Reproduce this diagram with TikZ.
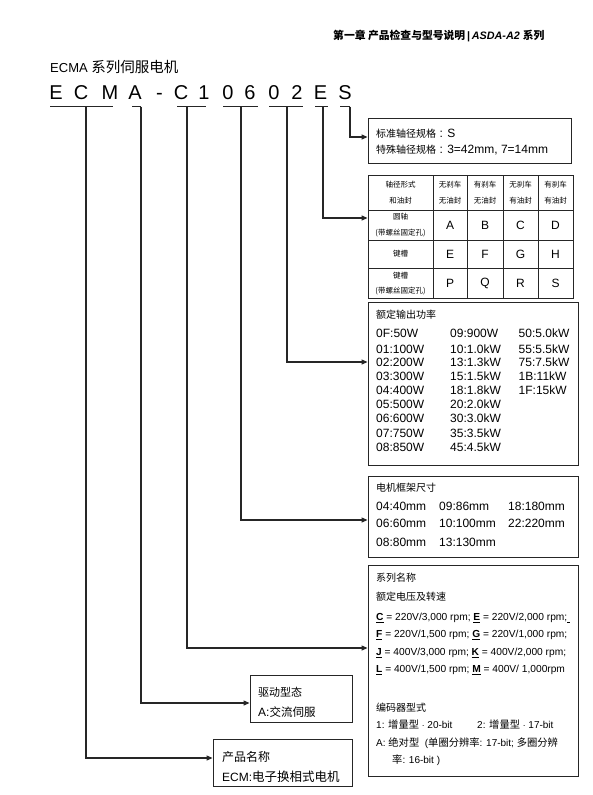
\documentclass[tikz,border=0pt]{standalone}
\usepackage{fontspec}
\setmainfont{Liberation Sans}
\newfontfamily\cjk{Noto Sans CJK SC}[AutoFakeSlant=0.2]
\usetikzlibrary{arrows.meta}
\newcommand\zhs[2]{{\fontsize{#1}{#1}\selectfont\cjk #2}}
\newcommand\fs[1]{\fontsize{#1}{#1}\selectfont}
\newcommand\ul[1]{\underline{\textbf{#1}}}
\begin{document}
\begin{tikzpicture}[x=1pt,y=-1pt,
  txt/.style={anchor=base west,inner sep=0pt},
  cell/.style={anchor=center,inner sep=0pt,align=center},
  box/.style={draw=black!85,line width=0.9pt,inner sep=0pt},
  grid/.style={draw=black!85,line width=0.8pt},
  conn/.style={line width=1.2pt,draw=black!85},
  arr/.style={conn,-{Triangle[length=6pt,width=5pt]}},
  big/.style={anchor=base,inner sep=0pt,font=\fs{20}}]
\useasboundingbox (0,0) rectangle (592,795);

% header
\node[txt] (hdr) at (333,39.5) {\fs{10.8}{\cjk\bfseries\itshape 第一章\ 产品检查与型号说明}\,\textbf{|}\,\textbf{\textit{ASDA-A2}} {\cjk\bfseries\itshape 系列}};
% title
\node[txt] (title) at (50,72.7) {\fs{13}ECMA \zhs{14.5}{系列伺服电机}};

% model letters
\node[big] (L1) at (56,99) {E};
\node[big] (L2) at (81,99) {C};
\node[big] (L3) at (110,99) {M};
\node[big] (L4) at (135,99) {A};
\node[big] (L5) at (159.5,99) {-};
\node[big] (L6) at (181,99) {C};
\node[big] (L7) at (204,99) {1};
\node[big] (L8) at (228,99) {0};
\node[big] (L9) at (250,99) {6};
\node[big] (L10) at (274,99) {0};
\node[big] (L11) at (297,99) {2};
\node[big] (L12) at (320.5,99) {E};
\node[big] (L13) at (345,99) {S};

% boxes
\node[box,minimum width=203pt,minimum height=45pt] (shaft) at (469.5,140.5) {};
\node[box,minimum width=205pt,minimum height=123pt] (tbl) at (470.5,236.5) {};
\node[box,minimum width=210pt,minimum height=163pt] (power) at (473,383.5) {};
\node[box,minimum width=210pt,minimum height=81pt] (frame) at (473,516.5) {};
\node[box,minimum width=210pt,minimum height=211pt] (series) at (473,670.5) {};
\node[box,minimum width=102pt,minimum height=47pt] (drive) at (301,698.5) {};
\node[box,minimum width=139pt,minimum height=47pt] (prod) at (282.5,762.5) {};

% underline coordinates
\coordinate (uNa) at (50,106.5);  \coordinate (uNb) at (113,106.5); \coordinate (vN) at (86,106.5);
\coordinate (uAa) at (132,106.5); \coordinate (vA) at (141,106.5);
\coordinate (uCa) at (177,106.5); \coordinate (uCb) at (206,106.5); \coordinate (vC) at (187,106.5);
\coordinate (uFa) at (223,106.5); \coordinate (uFb) at (258,106.5); \coordinate (vF) at (241,106.5);
\coordinate (uPa) at (269,106.5); \coordinate (uPb) at (303,106.5); \coordinate (vP) at (287,106.5);
\coordinate (uEa) at (315,106.5); \coordinate (uEb) at (328,106.5); \coordinate (vE) at (323,106.5);
\coordinate (uSa) at (340,106.5); \coordinate (vS) at (350,106.5);
% arrow targets
\coordinate (tS) at (shaft.west |- 0,137);
\coordinate (tE) at (tbl.west |- 0,218);
\coordinate (tP) at (power.west |- 0,362);
\coordinate (tF) at (frame.west |- 0,520);
\coordinate (tC) at (series.west |- 0,648);
\coordinate (tA) at (drive.west |- 0,703);
\coordinate (tN) at (prod.west |- 0,758);

\draw[conn] (uNa) -- (uNb);
\draw[conn] (uAa) -- (vA);
\draw[conn] (uCa) -- (uCb);
\draw[conn] (uFa) -- (uFb);
\draw[conn] (uPa) -- (uPb);
\draw[conn] (uEa) -- (uEb);
\draw[conn] (uSa) -- (vS);
\draw[arr] (vS) |- (tS);
\draw[arr] (vE) |- (tE);
\draw[arr] (vP) |- (tP);
\draw[arr] (vF) |- (tF);
\draw[arr] (vC) |- (tC);
\draw[arr] (vA) |- (tA);
\draw[arr] (vN) |- (tN);

% shaft box text
\node[txt] (s1) at (376,137.3) {\zhs{10}{标准轴径规格}\fs{12} : S};
\node[txt] (s2) at (376,153.3) {\zhs{10}{特殊轴径规格}\fs{12} : 3=42mm, 7=14mm};

% table grid
\draw[grid] (433,175) -- (433,298);
\draw[grid] (467,175) -- (467,298);
\draw[grid] (503,175) -- (503,298);
\draw[grid] (538,175) -- (538,298);
\draw[grid] (368,210) -- (573,210);
\draw[grid] (368,240) -- (573,240);
\draw[grid] (368,268) -- (573,268);
\node[cell] (h0) at (400.5,192.5) {\zhs{7.5}{轴径形式}\\[4pt]\zhs{7.5}{和油封}};
\node[cell] (h1) at (450,192.5) {\zhs{7.5}{无刹车}\\[4pt]\zhs{7.5}{无油封}};
\node[cell] (h2) at (485,192.5) {\zhs{7.5}{有刹车}\\[4pt]\zhs{7.5}{无油封}};
\node[cell] (h3) at (520.5,192.5) {\zhs{7.5}{无刹车}\\[4pt]\zhs{7.5}{有油封}};
\node[cell] (h4) at (555.5,192.5) {\zhs{7.5}{有刹车}\\[4pt]\zhs{7.5}{有油封}};
\node[cell] (r1) at (400.5,225.5) {\zhs{7.5}{圆轴}\\[4pt]\zhs{7.5}{(带螺丝固定孔)}};
\node[cell] (r2) at (400.5,254) {\zhs{7.5}{键槽}};
\node[cell] (r3) at (400.5,283.5) {\zhs{7.5}{键槽}\\[3pt]\zhs{7.5}{(带螺丝固定孔)}};
\foreach \t [count=\i] in {A,B,C,D} \node[cell,font=\fs{12}] (ta\i) at ({\i==1?450:(\i==2?485:(\i==3?520.5:555.5))},225) {\t};
\foreach \t [count=\i] in {E,F,G,H} \node[cell,font=\fs{12}] (tb\i) at ({\i==1?450:(\i==2?485:(\i==3?520.5:555.5))},254) {\t};
\foreach \t [count=\i] in {P,Q,R,S} \node[cell,font=\fs{12}] (tc\i) at ({\i==1?450:(\i==2?485:(\i==3?520.5:555.5))},283) {\t};

% power box
\node[txt] (pt) at (376,318) {\zhs{10}{额定输出功率}};
\foreach \t/\y [count=\i] in {0F:50W/337.5,01:100W/353,02:200W/366.5,03:300W/380.5,04:400W/394.5,05:500W/408.5,06:600W/422.5,07:750W/437,08:850W/451}
  \node[txt,font=\fs{12}] (pa\i) at (376,\y) {\t};
\foreach \t/\y [count=\i] in {09:900W/337.5,10:1.0kW/353,13:1.3kW/366.5,15:1.5kW/380.5,18:1.8kW/394.5,20:2.0kW/408.5,30:3.0kW/422.5,35:3.5kW/437,45:4.5kW/451}
  \node[txt,font=\fs{12}] (pb\i) at (450,\y) {\t};
\foreach \t/\y [count=\i] in {50:5.0kW/337.5,55:5.5kW/353,75:7.5kW/366.5,1B:11kW/380.5,1F:15kW/394.5}
  \node[txt,font=\fs{12}] (pc\i) at (518.5,\y) {\t};

% frame box
\node[txt] (ft) at (376,491) {\zhs{10}{电机框架尺寸}};
\node[txt,font=\fs{12}] (f1) at (376,510.3) {04:40mm};
\node[txt,font=\fs{12}] (f2) at (439,510.3) {09:86mm};
\node[txt,font=\fs{12}] (f3) at (508,510.3) {18:180mm};
\node[txt,font=\fs{12}] (f4) at (376,527.5) {06:60mm};
\node[txt,font=\fs{12}] (f5) at (439,527.5) {10:100mm};
\node[txt,font=\fs{12}] (f6) at (508,527.5) {22:220mm};
\node[txt,font=\fs{12}] (f7) at (376,546) {08:80mm};
\node[txt,font=\fs{12}] (f8) at (439,546) {13:130mm};

% series box
\node[txt] (e1) at (376,581.8) {\zhs{10}{系列名称}};
\node[txt] (e2) at (376,600.8) {\zhs{10}{额定电压及转速}};
\node[txt,font=\fs{10.2}] (e3) at (376,620.6) {\ul{C} = 220V/3,000 rpm; \ul{E} = 220V/2,000 rpm;\underline{\hspace{3pt}}};
\node[txt,font=\fs{10.2}] (e4) at (376,637.6) {\ul{F} = 220V/1,500 rpm; \ul{G} = 220V/1,000 rpm;};
\node[txt,font=\fs{10.2}] (e5) at (376,655.6) {\ul{J} = 400V/3,000 rpm; \ul{K} = 400V/2,000 rpm;};
\node[txt,font=\fs{10.2}] (e6) at (376,672.6) {\ul{L} = 400V/1,500 rpm; \ul{M} = 400V/ 1,000rpm};
\node[txt] (e7) at (376,711.8) {\zhs{10}{编码器型式}};
\node[txt,font=\fs{10}] (e8) at (376,728.8) {1: \zhs{10.3}{增量型}\fs{10} $\cdot$ 20-bit};
\node[txt,font=\fs{10}] (e9) at (477,728.8) {2: \zhs{10.3}{增量型}\fs{10} $\cdot$ 17-bit};
\node[txt,font=\fs{10}] (e10) at (376,746.8) {A: \zhs{10.3}{绝对型}\fs{10} \ (\zhs{10.3}{单圈分辨率}\fs{10}: 17-bit;\ \zhs{10.3}{多圈分辨}};
\node[txt,font=\fs{10}] (e11) at (392,763.8) {\zhs{10.3}{率}\fs{10}: 16-bit )};

% drive box
\node[txt] (d1) at (258,696) {\zhs{11}{驱动型态}};
\node[txt] (d2) at (258,716.2) {\fs{12}A:\zhs{11.5}{交流伺服}};
% product box
\node[txt] (n1) at (222,761.2) {\zhs{12}{产品名称}};
\node[txt] (n2) at (222,781.2) {\fs{12}ECM:\zhs{12.5}{电子换相式电机}};
\end{tikzpicture}
\end{document}
